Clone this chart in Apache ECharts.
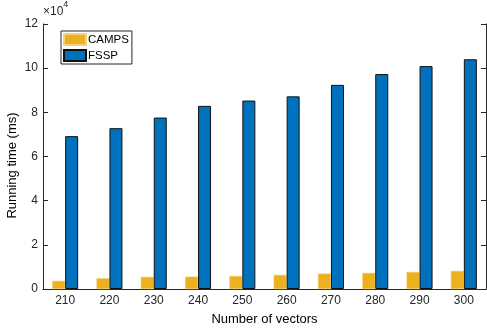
<!DOCTYPE html>
<html>
<head>
<meta charset="utf-8">
<script src="https://cdn.jsdelivr.net/npm/echarts@6/dist/echarts.min.js"></script>
<style>
  html, body { margin: 0; padding: 0; background: #fff; }
  #chart { width: 487px; height: 331px; }
</style>
</head>
<body>
<div id="chart"></div>
<script>
// Number of vectors on the x axis
const categories = ['210', '220', '230', '240', '250', '260', '270', '280', '290', '300'];
// Running time in ms
const campsTimes = [3700, 4900, 5500, 5600, 5900, 6400, 7000, 7300, 7700, 8200];
const fsspTimes = [69200, 72800, 77600, 82900, 85300, 87200, 92400, 97300, 100900, 104000];
// Y tick values (ms), shown scaled by 1e4
const yTicks = [0, 20000, 40000, 60000, 80000, 100000, 120000];

const axisColor = '#262626';
const fontFamily = '"Liberation Sans", Arial, Helvetica, sans-serif';

const chart = echarts.init(document.getElementById('chart'));
chart.setOption({
  animation: false,
  textStyle: { fontFamily: fontFamily },
  grid: { left: 43, right: 1, top: 20, bottom: 42 },
  legend: {
    left: 61, top: 31,
    orient: 'vertical',
    itemWidth: 22, itemHeight: 11, itemGap: 3,
    padding: [2, 3, 2, 2],
    borderColor: axisColor, borderWidth: 1,
    backgroundColor: '#fff',
    icon: 'rect',
    textStyle: { fontSize: 11.5, color: '#000', padding: [0, 0, 0, -3] },
    data: ['CAMPS', 'FSSP']
  },
  xAxis: [{
    type: 'category',
    data: categories,
    name: 'Number of vectors',
    nameLocation: 'middle',
    nameGap: 24,
    nameTextStyle: { fontSize: 13, color: '#000' },
    axisLine: { lineStyle: { color: axisColor } },
    axisTick: { inside: true, length: 5, alignWithLabel: true, lineStyle: { color: axisColor } },
    axisLabel: { fontSize: 12, color: axisColor, margin: 6 }
  }, {
    type: 'category',
    data: categories,
    position: 'top',
    axisLine: { lineStyle: { color: axisColor } },
    axisTick: { inside: true, length: 5, alignWithLabel: true, lineStyle: { color: axisColor } },
    axisLabel: { show: false }
  }],
  yAxis: [{
    type: 'value',
    min: yTicks[0], max: yTicks[yTicks.length - 1], interval: yTicks[1] - yTicks[0],
    name: '{a|×10}{b|4}',
    nameLocation: 'end',
    nameGap: 1,
    nameTextStyle: {
      align: 'left', verticalAlign: 'bottom',
      rich: {
        a: { fontSize: 12, color: axisColor, padding: [6, 0, 0, 0] },
        b: { fontSize: 9, color: axisColor, verticalAlign: 'top', padding: [0, 0, 6, 0] }
      }
    },
    splitLine: { show: false },
    axisLine: { show: true, lineStyle: { color: axisColor } },
    axisTick: { show: true, inside: true, length: 5, lineStyle: { color: axisColor } },
    axisLabel: { fontSize: 12, color: axisColor, margin: 5, formatter: v => String(v / 10000) }
  }, {
    type: 'value',
    position: 'right',
    min: yTicks[0], max: yTicks[yTicks.length - 1], interval: yTicks[1] - yTicks[0],
    splitLine: { show: false },
    axisLine: { show: true, lineStyle: { color: axisColor } },
    axisTick: { show: true, inside: true, length: 5, lineStyle: { color: axisColor } },
    axisLabel: { show: false }
  }],
  graphic: [{
    type: 'text',
    left: 6, top: 'middle',
    rotation: Math.PI / 2,
    style: { text: 'Running time (ms)', fontSize: 13, fill: '#000', fontFamily: fontFamily }
  }],
  series: [{
    name: 'CAMPS',
    type: 'bar',
    data: campsTimes,
    barWidth: 13,
    barGap: '0%',
    itemStyle: { color: '#EDB120', borderColor: '#F3D27A', borderWidth: 0.5 }
  }, {
    name: 'FSSP',
    type: 'bar',
    data: fsspTimes,
    barWidth: 13,
    itemStyle: { color: '#0072BD', borderColor: '#111', borderWidth: 1 }
  }]
});
</script>
</body>
</html>
